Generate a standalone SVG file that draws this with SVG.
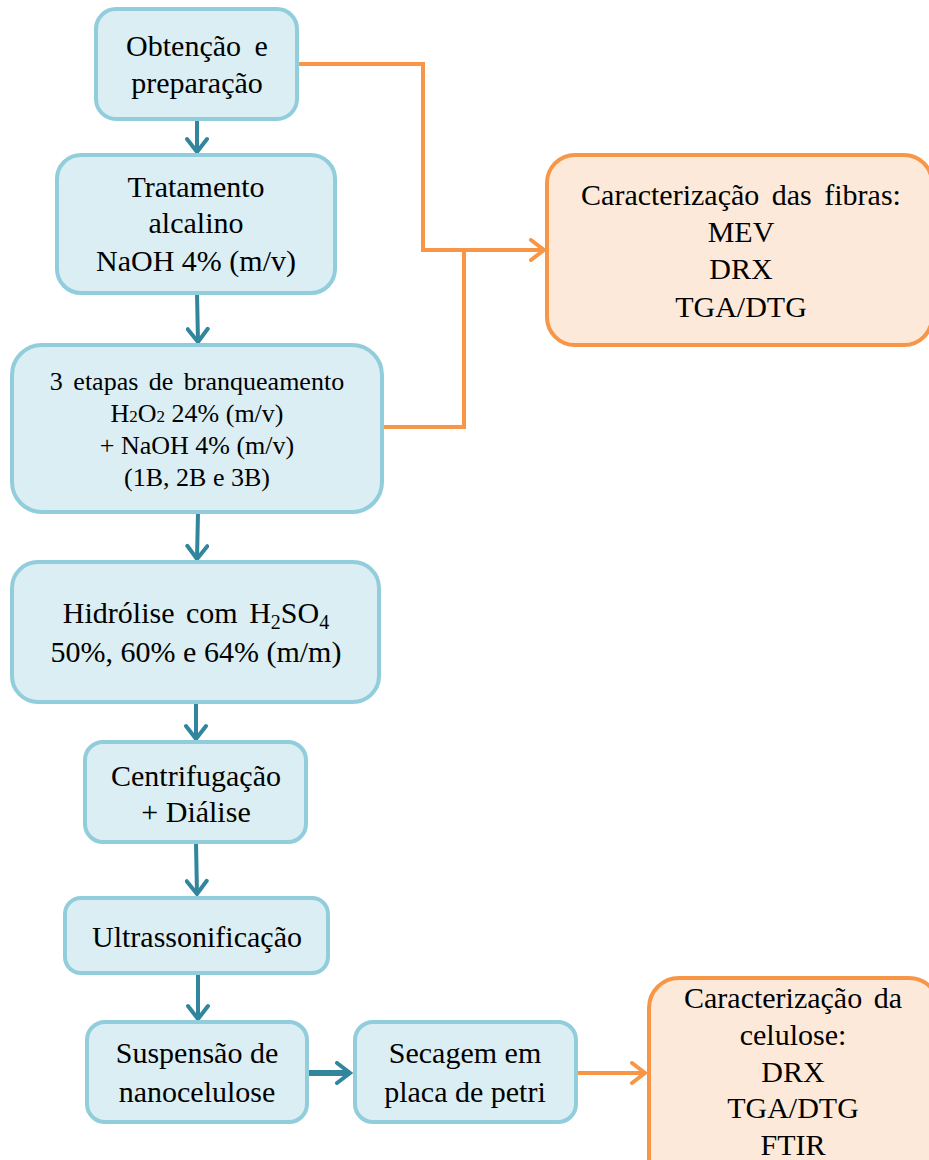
<svg xmlns="http://www.w3.org/2000/svg" width="929" height="1160" viewBox="0 0 929 1160">
<style>
.b{fill:#DAEEF3;stroke:#92CDDC;stroke-width:4}
.o{fill:#FDE9D9;stroke:#F79646;stroke-width:4}
text{font-family:'Liberation Serif','Times New Roman','DejaVu Serif',serif;font-size:30px;fill:#000;text-anchor:middle}
.s{font-size:26px}
.bl{fill:none;stroke:#31859C;stroke-width:4;stroke-linejoin:miter}
.ol{fill:none;stroke:#F79646;stroke-width:4;stroke-linejoin:miter}
</style>
<defs>
<marker id="ab" viewBox="0 0 20 24" refX="16" refY="12" markerWidth="20" markerHeight="24" markerUnits="userSpaceOnUse" orient="auto">
<path d="M3,2 L16,12 L3,22" fill="none" stroke="#31859C" stroke-width="4" stroke-linecap="round"/>
</marker>
<marker id="ao" viewBox="0 0 20 24" refX="16" refY="12" markerWidth="20" markerHeight="24" markerUnits="userSpaceOnUse" orient="auto">
<path d="M3,2 L16,12 L3,22" fill="none" stroke="#F79646" stroke-width="4" stroke-linecap="round"/>
</marker>
</defs>
<g id="connectors">
<path class="bl" d="M197,119 V152" marker-end="url(#ab)"/>
<path class="bl" d="M197,293 L198,342" marker-end="url(#ab)"/>
<path class="bl" d="M198,512 L197,559" marker-end="url(#ab)"/>
<path class="bl" d="M196,702 V739" marker-end="url(#ab)"/>
<path class="bl" d="M196,843 L197,894" marker-end="url(#ab)"/>
<path class="bl" d="M198,974 V1019" marker-end="url(#ab)"/>
<path class="bl" d="M308,1073 H350" style="stroke-width:6" marker-end="url(#ab)"/>
<path class="ol" d="M297,64 H423 V250 H544" marker-end="url(#ao)"/>
<path class="ol" d="M382,427 H464 V250"/>
<path class="ol" d="M577,1073 H645" marker-end="url(#ao)"/>
</g>
<g id="n1"><rect class="b" x="96" y="9" width="201" height="110" rx="20"/>
<text x="197" y="56" word-spacing="6">Obtenção e</text>
<text x="197" y="93">preparação</text></g>
<g id="n2"><rect class="b" x="57" y="155" width="278" height="138" rx="24"/>
<text x="196" y="197">Tratamento</text>
<text x="196" y="233">alcalino</text>
<text x="196" y="271">NaOH 4% (m/v)</text></g>
<g id="n3"><rect class="b" x="12" y="345" width="370" height="167" rx="30"/>
<text class="s" x="197" y="390" word-spacing="4">3 etapas de branqueamento</text>
<text class="s" x="197" y="422">H<tspan font-size="17">2</tspan>O<tspan font-size="17">2</tspan> 24% (m/v)</text>
<text class="s" x="197" y="454">+ NaOH 4% (m/v)</text>
<text class="s" x="197" y="486">(1B, 2B e 3B)</text></g>
<g id="n4"><rect class="b" x="12" y="562" width="367" height="140" rx="26"/>
<text x="196" y="623" word-spacing="4">Hidrólise com H<tspan font-size="20" dy="6">2</tspan><tspan dy="-6">SO</tspan><tspan font-size="20" dy="6">4</tspan></text>
<text x="196" y="662">50%, 60% e 64% (m/m)</text></g>
<g id="n5"><rect class="b" x="85" y="742" width="221" height="100" rx="18"/>
<text x="196" y="786">Centrifugação</text>
<text x="196" y="822">+ Diálise</text></g>
<g id="n6"><rect class="b" x="65" y="898" width="263" height="75" rx="16"/>
<text x="197" y="947">Ultrassonificação</text></g>
<g id="n7"><rect class="b" x="87" y="1022" width="220" height="100" rx="18"/>
<text x="197" y="1063">Suspensão de</text>
<text x="197" y="1102">nanocelulose</text></g>
<g id="n8"><rect class="b" x="355" y="1022" width="221" height="100" rx="18"/>
<text x="465" y="1063">Secagem em</text>
<text x="465" y="1102">placa de petri</text></g>
<g id="n9"><rect class="o" x="547" y="155" width="385" height="190" rx="28"/>
<text x="741" y="205" word-spacing="5">Caracterização das fibras:</text>
<text x="741" y="242">MEV</text>
<text x="741" y="279">DRX</text>
<text x="741" y="317">TGA/DTG</text></g>
<g id="n10"><rect class="o" x="649" y="978" width="290" height="210" rx="30"/>
<text x="793" y="1008" word-spacing="4">Caracterização da</text>
<text x="793" y="1045">celulose:</text>
<text x="793" y="1082">DRX</text>
<text x="793" y="1118">TGA/DTG</text>
<text x="793" y="1155">FTIR</text></g>
</svg>
